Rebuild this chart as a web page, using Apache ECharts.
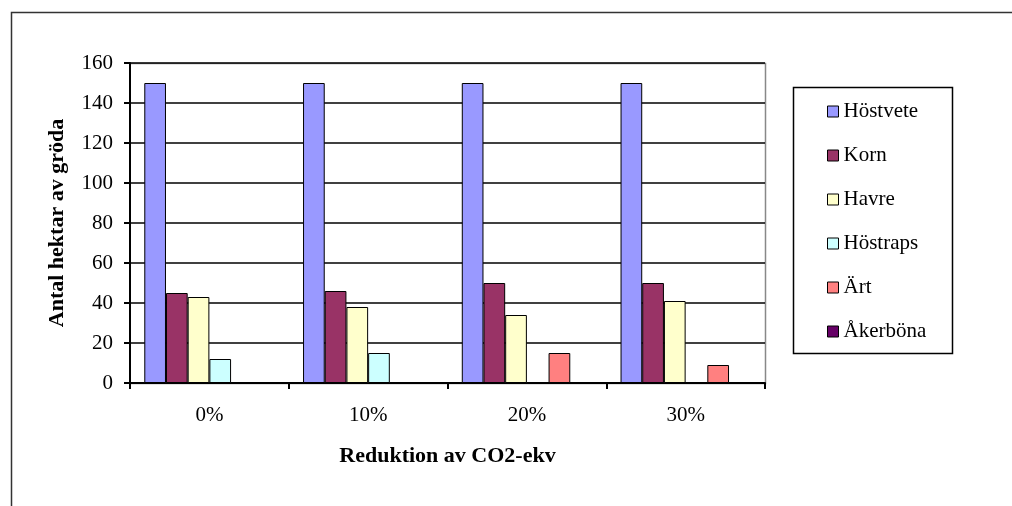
<!DOCTYPE html>
<html>
<head>
<meta charset="utf-8">
<script src="https://cdn.jsdelivr.net/npm/echarts@6/dist/echarts.min.js"></script>
<style>
html,body{margin:0;padding:0;background:#fff;}
#c{width:1012px;height:506px;}
</style>
</head>
<body>
<div id="c"></div>
<script>
const categories = ['0%', '10%', '20%', '30%'];
const seriesNames = ['Höstvete', 'Korn', 'Havre', 'Höstraps', 'Ärt', 'Åkerböna'];
const hostvete = [150, 150, 150, 150];
const korn = [45, 46, 50, 50];
const havre = [43, 38, 34, 41];
const hostraps = [12, 15, 0.5, 0];
const art = [0, 0.5, 15, 9];
const akerbona = [0, 0, 0, 0];
const yTicks = [0, 20, 40, 60, 80, 100, 120, 140, 160];

const colors = ['#9999FF', '#993366', '#FFFFCC', '#CCFFFF', '#FF8080', '#660066'];
const values = [hostvete, korn, havre, hostraps, art, akerbona];
const font = 'Liberation Serif';

const chart = echarts.init(document.getElementById('c'), null, {renderer: 'canvas'});
const series = seriesNames.map((n, i) => ({
  name: n,
  type: 'bar',
  data: values[i],
  barGap: '0%',
  barCategoryGap: '18%',
  itemStyle: {color: colors[i], borderColor: '#000', borderWidth: 1},
  emphasis: {disabled: true}
}));

chart.setOption({
  animation: false,
  textStyle: {fontFamily: font},
  graphic: [
    {type: 'rect', shape: {x: 11.5, y: 12.5, width: 1010, height: 500}, style: {fill: 'none', stroke: '#333', lineWidth: 1.5}, silent: true, z: -10},
    {type: 'rect', shape: {x: 130, y: 63.5, width: 635.5, height: 320}, style: {fill: 'none', stroke: '#888', lineWidth: 1.5}, silent: true, z: -5},
    {type: 'rect', shape: {x: 793.5, y: 87.5, width: 159, height: 266}, style: {fill: '#fff', stroke: '#000', lineWidth: 1.5}, silent: true, z: -1}
  ],
  grid: {left: 130, top: 63, right: 247, bottom: 123, containLabel: false},
  legend: {
    orient: 'vertical',
    left: 822,
    top: 96,
    itemWidth: 11,
    itemHeight: 11,
    itemGap: 23,
    icon: 'rect',
    itemStyle: {borderColor: '#000', borderWidth: 1},
    textStyle: {fontFamily: font, fontSize: 21, color: '#000', padding: [0, 0, 0, 0]},
    data: seriesNames
  },
  xAxis: {
    type: 'category',
    data: categories,
    name: 'Reduktion av CO2-ekv',
    nameLocation: 'middle',
    nameGap: 62,
    nameTextStyle: {fontFamily: font, fontSize: 22, fontWeight: 'bold', color: '#000'},
    axisLine: {lineStyle: {color: '#000', width: 2}},
    axisTick: {show: true, length: 6, lineStyle: {color: '#000', width: 2}},
    axisLabel: {fontFamily: font, fontSize: 21, color: '#000', margin: 22}
  },
  yAxis: {
    type: 'value',
    min: 0,
    max: 160,
    interval: 20,
    name: 'Antal hektar av gröda',
    nameLocation: 'middle',
    nameGap: 62,
    nameTextStyle: {fontFamily: font, fontSize: 22, fontWeight: 'bold', color: '#000'},
    axisLine: {show: true, lineStyle: {color: '#000', width: 2}},
    axisTick: {show: true, length: 6, lineStyle: {color: '#000', width: 2}},
    axisLabel: {fontFamily: font, fontSize: 21, color: '#000', margin: 17,
      formatter: v => yTicks.includes(v) ? String(v) : ''},
    splitLine: {show: true, lineStyle: {color: '#000', width: 1.5}}
  },
  series: series
});
</script>
</body>
</html>
